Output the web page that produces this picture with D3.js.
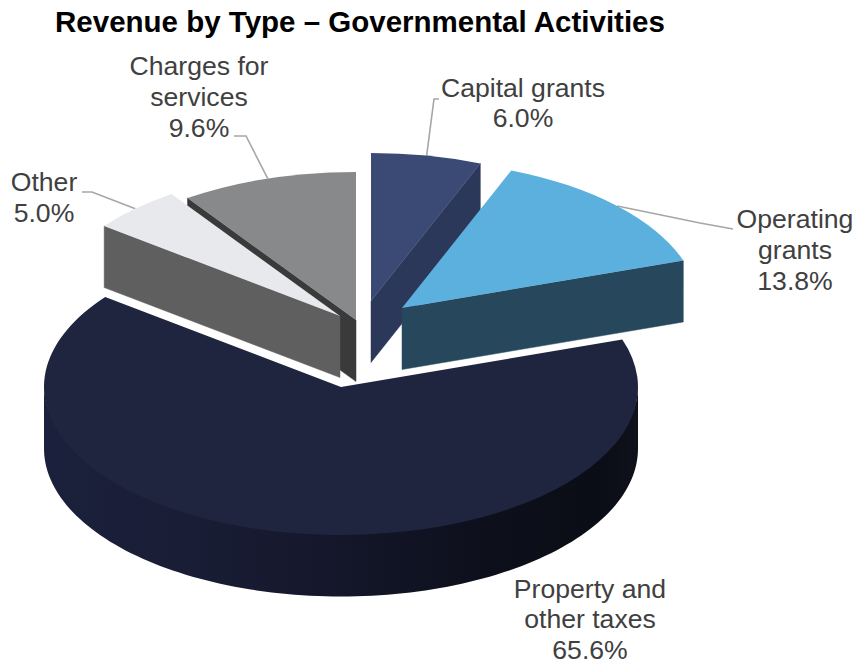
<!DOCTYPE html>
<html>
<head>
<meta charset="utf-8">
<script src="https://cdn.jsdelivr.net/npm/d3@7/dist/d3.min.js"></script>
<style>html,body{margin:0;padding:0;background:#fff}svg{display:block}</style>
</head>
<body>
<svg id="c" width="856" height="665"></svg>
<script>
const titleText = "Revenue by Type – Governmental Activities";
const categories = ["Capital grants", "Operating grants", "Property and other taxes", "Other", "Charges for services"];
const values = [6.0, 13.8, 65.6, 5.0, 9.6];
const labelLines = [["Capital grants"], ["Operating", "grants"], ["Property and", "other taxes"], ["Other"], ["Charges for", "services"]];

const topColors = ["#3b4a75", "#5cb0de", "#20253f", "#e8e9ed", "#88898b"];
const sideColors = ["#2c3859", "#27485c", "#14182b", "#5f5f60", "#3a3a3a"];

// layout
const W = 856, H = 665;
const rx = 297, ry = 148, depth = 61.5;
const apexes = [[371, 301], [402, 308], [341, 387], [340, 316], [356, 320]];
const labelPos = [[523, 97], [795, 228], [590, 597.5], [44, 191], [199, 75]];
const lineGap = [30, 31, 30.8, 31, 31];
const leaders = [
  [[434, 99], [439, 99]],
  [[700, 223], [733, 229]],
  null,
  [[92, 192], [82, 192]],
  [[246, 136], [234, 136]]
];
const drawOrder = [2, 4, 3, 0, 1];

const svg = d3.select("#c");
const defs = svg.append("defs");
const grad = defs.append("linearGradient").attr("id", "wall").attr("gradientUnits", "userSpaceOnUse")
  .attr("x1", 44).attr("x2", 638).attr("y1", 0).attr("y2", 0);
[[0, "#1b203c"], [0.25, "#191d35"], [0.5, "#14172a"], [0.75, "#0d0f1b"], [0.93, "#0b0d16"], [1, "#10121b"]]
  .forEach(([o, c]) => grad.append("stop").attr("offset", o).attr("stop-color", c));

const pie = d3.pie().sort(null).value(d => d)(values);
const x = a => rx * Math.sin(a);
const y = a => -ry * Math.cos(a);
const line = d3.line();
const arc = d3.arc().innerRadius(0).outerRadius(rx);

function slice(i) {
  const p = pie[i], [cx, cy] = apexes[i];
  const g = svg.append("g").attr("class", "slice").attr("data-name", categories[i]);
  const face = a => [[cx, cy], [cx + x(a), cy + y(a)], [cx + x(a), cy + y(a) + depth], [cx, cy + depth]];
  // radial cut faces
  const cuts = [];
  if (p.startAngle > Math.PI) cuts.push(p.startAngle);
  if (p.endAngle < Math.PI && p.endAngle > 0) cuts.push(p.endAngle);
  if (i !== 2) cuts.forEach(a => g.append("path").attr("d", line(face(a)) + "Z")
    .attr("fill", sideColors[i]).attr("stroke", sideColors[i]).attr("stroke-width", 0.5));
  // outer wall for the part of the rim that faces the viewer
  const a0 = Math.max(p.startAngle, Math.PI / 2), a1 = Math.min(p.endAngle, 3 * Math.PI / 2);
  if (a1 > a0) {
    const as = d3.range(0, 121).map(k => a0 + (a1 - a0) * k / 120);
    const rim = as.map(a => [cx + x(a), cy + y(a) - 2]);
    const low = as.slice().reverse().map(a => [cx + x(a), cy + y(a) + depth]);
    g.append("path").attr("d", line(rim.concat(low)) + "Z").attr("fill", "url(#wall)");
  }
  // top surface
  g.append("path")
    .attr("transform", `translate(${cx},${cy}) scale(1,${ry / rx})`)
    .attr("d", arc(p)).attr("fill", topColors[i]);
}

// leader lines sit below the slices
values.forEach((v, i) => {
  if (!leaders[i]) return;
  const mid = (pie[i].startAngle + pie[i].endAngle) / 2;
  const [cx, cy] = apexes[i];
  const from = [[cx + x(mid), cy + y(mid)], ...leaders[i]];
  svg.append("path").attr("d", line(from)).attr("fill", "none")
    .attr("stroke", "#a6a6a6").attr("stroke-width", 1.6);
});

drawOrder.forEach(slice);

// labels
const font = "'Liberation Sans', Arial, sans-serif";
svg.append("text").attr("x", 360).attr("y", 32).attr("text-anchor", "middle")
  .attr("font-family", font).attr("font-weight", "bold").attr("font-size", 29.5).attr("fill", "#000")
  .text(titleText);

values.forEach((v, i) => {
  const t = svg.append("text").attr("text-anchor", "middle").attr("font-family", font)
    .attr("font-size", 26.6).attr("fill", "#404040");
  const lines = labelLines[i].concat([d3.format(".1f")(v) + "%"]);
  lines.forEach((s, k) => t.append("tspan").attr("x", labelPos[i][0])
    .attr("y", labelPos[i][1] + k * lineGap[i]).text(s));
});
</script>
</body>
</html>
